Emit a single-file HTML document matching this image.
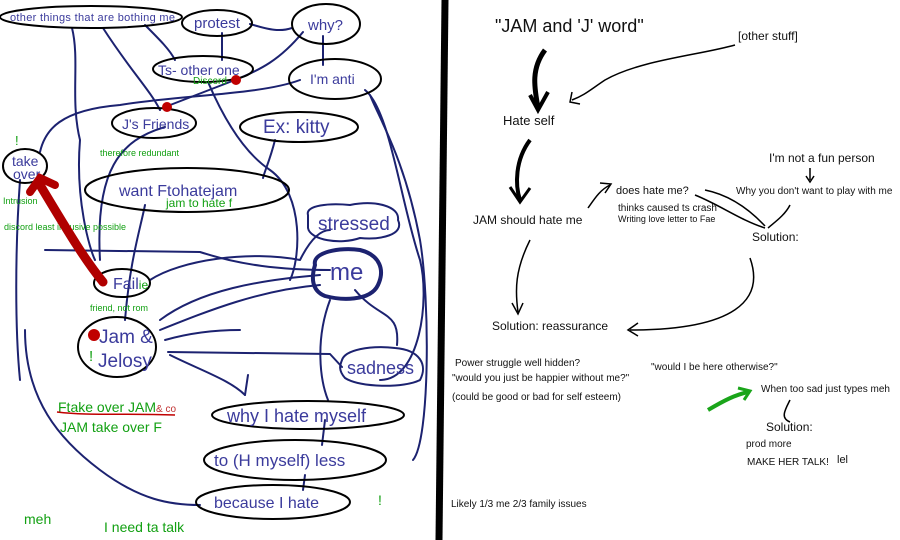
<!DOCTYPE html>
<html><head><meta charset="utf-8"><style>
body{margin:0;background:#fff}
svg{display:block}
text{font-family:"Liberation Sans",sans-serif}
.b{fill:#3b3b9c}.g{fill:#12a012}.k{fill:#111}
.e{fill:none;stroke:#000;stroke-width:2}
.n{fill:none;stroke:#1c2270;stroke-width:2;stroke-linejoin:round;stroke-linecap:round}
.a{fill:none;stroke:#000;stroke-width:1.5}
</style></head><body>
<svg width="900" height="540" viewBox="0 0 900 540">
<g class="n">
<path d="M72 28 C80 60 70 100 80 140 C75 200 90 250 95 260"/>
<path d="M103 28 C130 70 150 90 160 110"/>
<path d="M145 25 C160 40 170 50 175 60"/>
<path d="M250 24 C270 30 280 32 292 28"/>
<path d="M222 33 L222 60"/>
<path d="M323 36 L323 65"/>
<path d="M303 32 C280 60 260 70 235 80 L165 107"/>
<path d="M300 80 C260 95 180 95 120 105 C60 110 45 130 40 152"/>
<path d="M208 82 C220 110 240 150 270 170 C305 195 300 260 290 280"/>
<path d="M365 90 C390 110 400 200 420 260 C430 300 420 380 380 380"/>
<path d="M165 127 C120 140 95 170 100 260"/>
<path d="M275 140 C270 160 265 170 263 178"/>
<path d="M145 205 C140 230 130 260 125 320"/>
<path d="M20 180 C15 250 15 330 20 380"/>
<path d="M45 250 L200 252 C240 265 280 270 330 270"/>
<path d="M150 280 C180 260 250 250 300 260 C310 240 320 230 330 230"/>
<path d="M160 320 C200 290 260 280 320 275"/>
<path d="M160 330 C210 310 260 290 320 285"/>
<path d="M165 340 C200 330 230 330 240 330"/>
<path d="M168 352 L330 354 L342 367"/>
<path d="M170 355 C200 370 230 380 245 395"/>
<path d="M248 375 L245 395"/>
<path d="M330 300 C315 340 320 380 328 400"/>
<path d="M355 290 C380 320 400 310 397 345"/>
<path d="M25 330 C25 400 60 440 100 470 C140 500 170 505 200 505"/>
<path d="M325 420 L322 445"/>
<path d="M305 475 L303 490"/>
<path d="M413 460 C430 440 430 300 420 240 C405 160 380 120 370 95"/>
</g>
<path class="n" d="M308 215 C305 205 330 203 350 205 C375 200 400 206 398 220 C405 235 380 240 360 238 C340 245 310 240 308 228Z"/>
<path class="n" style="stroke-width:4" d="M315 265 C312 252 340 247 360 250 C380 255 385 270 378 285 C370 302 340 300 325 296 C310 290 312 275 315 265Z"/>
<path class="n" d="M342 360 C345 350 370 345 395 348 C420 350 428 365 420 380 C405 388 360 388 345 378 C338 370 340 365 342 360Z"/>
<ellipse class="e" cx="91" cy="17" rx="91" ry="11"/>
<ellipse class="e" cx="217" cy="23" rx="35" ry="13"/>
<ellipse class="e" cx="326" cy="24" rx="34" ry="20"/>
<ellipse class="e" cx="203" cy="69" rx="50" ry="13"/>
<ellipse class="e" cx="335" cy="79" rx="46" ry="20"/>
<ellipse class="e" cx="154" cy="123" rx="42" ry="15"/>
<ellipse class="e" cx="299" cy="127" rx="59" ry="15"/>
<ellipse class="e" cx="25" cy="166" rx="22" ry="17"/>
<ellipse class="e" cx="187" cy="190" rx="102" ry="22"/>
<ellipse class="e" cx="122" cy="283" rx="28" ry="14"/>
<ellipse class="e" cx="117" cy="347" rx="39" ry="30"/>
<ellipse class="e" cx="308" cy="415" rx="96" ry="14"/>
<ellipse class="e" cx="295" cy="460" rx="91" ry="20"/>
<ellipse class="e" cx="273" cy="502" rx="77" ry="17"/>
<g class="b">
<text x="10" y="21" font-size="11" textLength="165">other things that are bothing me</text>
<text x="194" y="28" font-size="15">protest</text>
<text x="308" y="30" font-size="15">why?</text>
<text x="158" y="75" font-size="14">Ts- other one</text>
<text x="310" y="84" font-size="14">I'm anti</text>
<text x="122" y="129" font-size="14">J's Friends</text>
<text x="263" y="133" font-size="19">Ex: kitty</text>
<text x="12" y="166" font-size="14">take</text>
<text x="13" y="179" font-size="14">over</text>
<text x="119" y="196" font-size="16">want Ftohatejam</text>
<text x="318" y="230" font-size="19">stressed</text>
<text x="330" y="280" font-size="24">me</text>
<text x="113" y="289" font-size="16">Fail<tspan font-size="12" style="fill:#12a012">ie</tspan></text>
<text x="99" y="343" font-size="19">Jam &amp;</text>
<text x="98" y="367" font-size="19">Jelosy</text>
<text x="347" y="374" font-size="18">sadness</text>
<text x="227" y="422" font-size="18">why I hate myself</text>
<text x="214" y="466" font-size="17">to (H myself) less</text>
<text x="214" y="508" font-size="16">because I hate</text>
</g>
<g class="g">
<text x="193" y="84" font-size="10">Discord</text>
<text x="100" y="156" font-size="9">therefore redundant</text>
<text x="15" y="145" font-size="13">!</text>
<text x="3" y="204" font-size="9">Intrusion</text>
<text x="4" y="230" font-size="9">discord least intrusive possible</text>
<text x="166" y="207" font-size="12">jam to hate f</text>
<text x="90" y="311" font-size="9">friend, not rom</text>
<text x="89" y="361" font-size="15">!</text>
<text x="58" y="412" font-size="14">Ftake over JAM<tspan font-size="10" style="fill:#c03030">&amp; co</tspan></text>
<text x="60" y="432" font-size="14">JAM take over F</text>
<text x="378" y="505" font-size="14">!</text>
<text x="24" y="524" font-size="14">meh</text>
<text x="104" y="532" font-size="14">I need ta talk</text>
</g>
<path d="M57 412 C90 416 120 413 175 415" stroke="#c00000" stroke-width="1.5" fill="none"/>
<path d="M103 282 C85 260 70 235 40 185" stroke="#b00000" stroke-width="9" fill="none" stroke-linecap="round"/>
<path d="M30 192 L40 178 L55 185" stroke="#b00000" stroke-width="8" fill="none" stroke-linecap="round"/>
<circle cx="236" cy="80" r="5" fill="#c00000"/>
<circle cx="167" cy="107" r="5" fill="#c00000"/>
<circle cx="94" cy="335" r="6" fill="#c00000"/>
<path d="M445 0 L439 540" stroke="#000" stroke-width="7"/>
<g class="k">
<text x="495" y="32" font-size="18">"JAM and 'J' word"</text>
<text x="738" y="40" font-size="12">[other stuff]</text>
<text x="503" y="125" font-size="13">Hate self</text>
<text x="769" y="162" font-size="12">I'm not a fun person</text>
<text x="736" y="194" font-size="10">Why you don't want to play with me</text>
<text x="616" y="194" font-size="11">does hate me?</text>
<text x="618" y="211" font-size="10">thinks caused ts crash</text>
<text x="618" y="222" font-size="9">Writing love letter to Fae</text>
<text x="473" y="224" font-size="12">JAM should hate me</text>
<text x="752" y="241" font-size="12">Solution:</text>
<text x="492" y="330" font-size="12">Solution:  reassurance</text>
<text x="455" y="366" font-size="10">Power struggle well hidden?</text>
<text x="452" y="381" font-size="10">"would you just be happier without me?"</text>
<text x="452" y="400" font-size="10">(could be good or bad for self esteem)</text>
<text x="651" y="370" font-size="10">"would I be here otherwise?"</text>
<text x="761" y="392" font-size="10">When too sad just types meh</text>
<text x="766" y="431" font-size="12">Solution:</text>
<text x="746" y="447" font-size="10">prod more</text>
<text x="747" y="465" font-size="10">MAKE HER TALK!</text>
<text x="837" y="463" font-size="11">lel</text>
<text x="451" y="507" font-size="10">Likely 1/3 me 2/3 family issues</text>
</g>
<g class="a">
<path d="M545 50 C530 70 535 90 538 108" stroke-width="5"/>
<path d="M530 95 L538 110 L548 92" stroke-width="4"/>
<path d="M530 140 C515 160 515 185 520 200" stroke-width="4"/>
<path d="M510 187 L520 202 L530 188" stroke-width="3"/>
<path d="M735 45 C700 55 640 60 605 80 C590 90 585 95 572 100"/>
<path d="M572 92 L570 102 L580 104"/>
<path d="M530 240 C515 270 515 290 518 312"/>
<path d="M512 303 L518 314 L523 303"/>
<path d="M588 208 C595 198 600 190 610 185"/>
<path d="M600 183 L611 184 L605 193"/>
<path d="M705 190 C730 195 750 210 765 226"/>
<path d="M695 195 C720 205 740 220 765 228"/>
<path d="M790 205 C785 215 775 222 768 228"/>
<path d="M810 168 L810 180"/><path d="M806 176 L810 182 L814 176"/>
<path d="M750 258 C765 300 735 330 630 330"/>
<path d="M638 323 L628 330 L638 336"/>
<path d="M790 400 C785 410 780 418 790 422"/>
</g>
<path d="M708 410 C725 400 735 395 748 392" stroke="#1aa51a" stroke-width="4" fill="none"/>
<path d="M738 388 L750 391 L744 400" stroke="#1aa51a" stroke-width="3" fill="none"/>
</svg>
</body></html>
